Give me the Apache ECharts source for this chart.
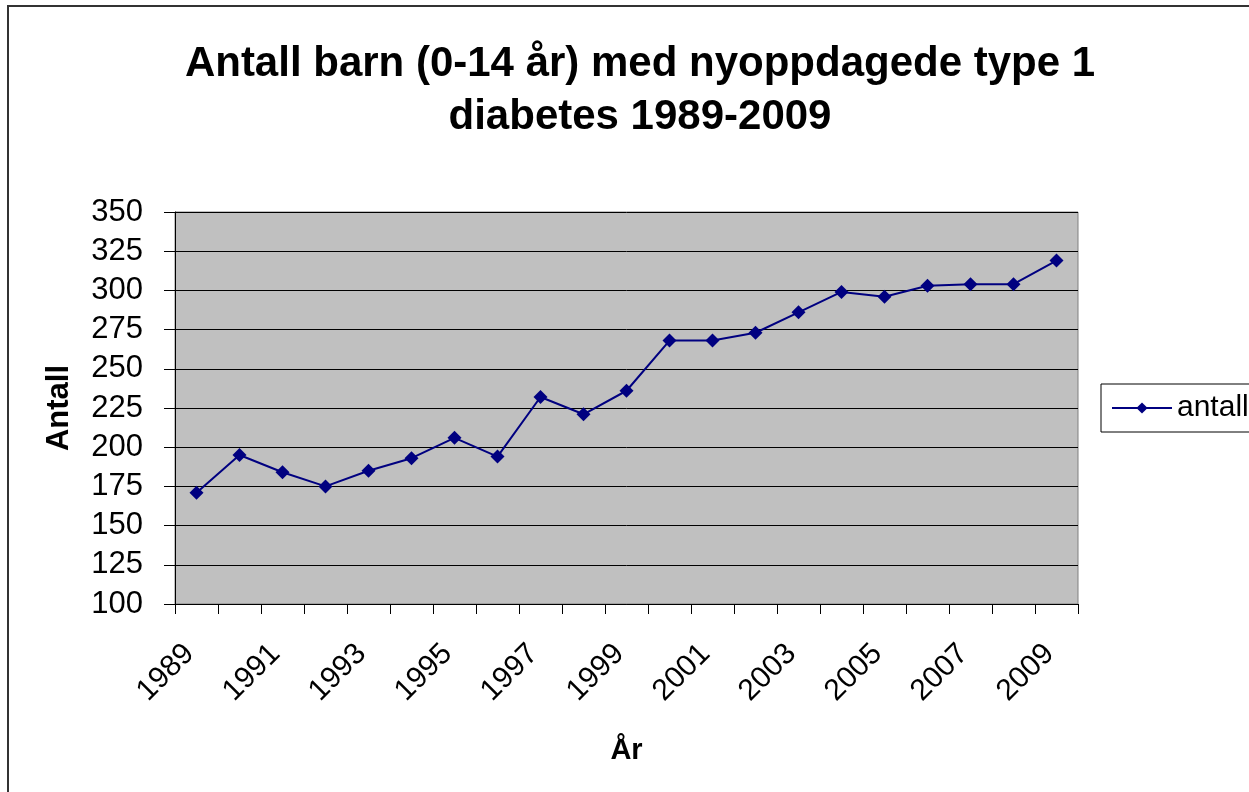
<!DOCTYPE html>
<html>
<head>
<meta charset="utf-8">
<script src="https://cdn.jsdelivr.net/npm/echarts@6/dist/echarts.min.js"></script>
<style>
html,body{margin:0;padding:0;background:#fff;overflow:hidden;}
#chart{width:1249px;height:792px;}
</style>
</head>
<body>
<div id="chart"></div>
<script>
const years = ['1989','1990','1991','1992','1993','1994','1995','1996','1997','1998','1999','2000','2001','2002','2003','2004','2005','2006','2007','2008','2009'];
const antall = [171,195,184,175,185,193,206,194,232,221,236,268,268,273,286,299,296,303,304,304,319];
const titleText = 'Antall barn (0-14 år) med nyoppdagede type 1\ndiabetes 1989-2009';
const seriesName = 'antall';
const yAxisName = 'Antall';
const xAxisName = 'År';

const font = 'Liberation Sans, Arial, sans-serif';
const chart = echarts.init(document.getElementById('chart'), null, {renderer:'canvas'});
chart.setOption({
  animation:false,
  textStyle:{fontFamily:font},
  graphic:[{type:'rect',shape:{x:8,y:6,width:1400,height:900},style:{fill:'none',stroke:'#333',lineWidth:2},z:-1}],
  title:{text:titleText,left:635,textAlign:'center',top:33,
    textStyle:{fontFamily:font,fontSize:42,fontWeight:'bold',color:'#000',lineHeight:53}},
  grid:{left:175,right:171,top:212,bottom:188,show:true,backgroundColor:'#c0c0c0',borderColor:'#808080',borderWidth:1},
  legend:{left:1101,top:384,orient:'vertical',padding:[9,10,9,10],borderColor:'#000',borderWidth:1,
    itemWidth:60,itemHeight:14,itemGap:4,
    textStyle:{fontFamily:font,fontSize:30,color:'#000'},data:[seriesName]},
  xAxis:{type:'category',data:years,boundaryGap:true,
    name:xAxisName,nameLocation:'middle',nameGap:132,
    nameTextStyle:{fontFamily:font,fontSize:29,fontWeight:'bold',color:'#000'},
    axisLine:{lineStyle:{color:'#000',width:1}},
    axisTick:{show:true,interval:0,length:10,lineStyle:{color:'#000'}},
    axisLabel:{interval:1,rotate:45,fontSize:30,color:'#000',fontFamily:font,margin:38,padding:[0,10,0,0]},
    splitLine:{show:false}},
  yAxis:{type:'value',min:100,max:350,interval:25,
    name:yAxisName,nameLocation:'middle',nameGap:100,nameRotate:90,
    nameTextStyle:{fontFamily:font,fontSize:31,fontWeight:'bold',color:'#000'},
    axisLine:{show:true,lineStyle:{color:'#000',width:1}},
    axisTick:{show:true,length:11,lineStyle:{color:'#000'}},
    axisLabel:{fontSize:31,color:'#000',fontFamily:font,margin:32},
    splitLine:{show:true,lineStyle:{color:'#000',width:1}}},
  series:[{name:seriesName,type:'line',data:antall,
    symbol:'diamond',symbolSize:14,
    lineStyle:{color:'#000080',width:2},
    itemStyle:{color:'#000080'}}]
});
</script>
</body>
</html>
